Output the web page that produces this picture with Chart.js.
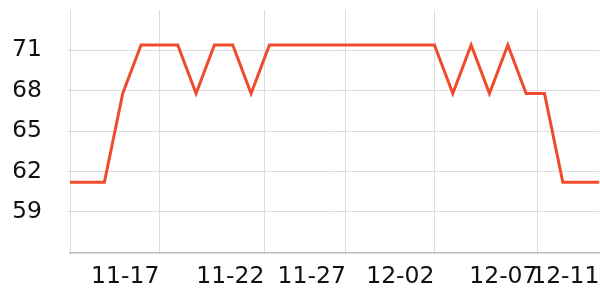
<!DOCTYPE html>
<html>
<head>
<meta charset="utf-8">
<script src="https://cdn.jsdelivr.net/npm/chart.js@4/dist/chart.umd.min.js"></script>
<style>
  html, body { margin: 0; padding: 0; background: #fff; }
  #wrap { width: 600px; height: 300px; }
</style>
</head>
<body>
<div id="wrap"><canvas id="c"></canvas></div>
<script>
// 每日数据 11-12 ~ 12-11
const dates = ['11-12','11-13','11-14','11-15','11-16','11-17','11-18','11-19','11-20','11-21',
  '11-22','11-23','11-24','11-25','11-26','11-27','11-28','11-29','11-30','12-01',
  '12-02','12-03','12-04','12-05','12-06','12-07','12-08','12-09','12-10','12-11'];
const values = [61.2, 61.2, 61.2, 67.8, 71.4, 71.4, 71.4, 67.8, 71.4, 71.4,
  67.8, 71.4, 71.4, 71.4, 71.4, 71.4, 71.4, 71.4, 71.4, 71.4,
  71.4, 67.8, 71.4, 67.8, 71.4, 67.8, 67.8, 61.2, 61.2, 61.2];

// x 轴刻度（以天为单位）及标签
const xTickPos = [0.125, 5, 10.73, 15.17, 20, 25.62, 29];
const xTickLabels = ['', '11-17', '11-22', '11-27', '12-02', '12-07', '12-11'];
const yTicks = [59, 62, 65, 68, 71];

const points = values.map((v, i) => ({ x: i, y: v }));
const font = { family: 'DejaVu Sans', size: 23.5 };
const lastX = xTickPos.length - 1;

new Chart(document.getElementById('c').getContext('2d'), {
  type: 'line',
  data: { labels: dates, datasets: [{
    data: points, borderColor: '#ee4c2c', borderWidth: 3, pointRadius: 0,
    tension: 0, fill: false, clip: 0
  }]},
  options: {
    responsive: true, maintainAspectRatio: false, animation: false,
    layout: { padding: { left: 14, top: 10, right: 0.5, bottom: 11 } },
    plugins: { legend: { display: false }, tooltip: { enabled: false } },
    scales: {
      x: {
        type: 'linear', min: 0.125, max: 29,
        afterBuildTicks: (axis) => { axis.ticks = xTickPos.map(v => ({ value: v })); },
        afterFit: (axis) => { axis.height = 36.7; axis.paddingLeft = 0; axis.paddingRight = 0; },
        ticks: {
          autoSkip: false, maxRotation: 0, align: 'end', padding: 8, color: '#111', font,
          callback: (v) => xTickLabels[xTickPos.indexOf(v)]
        },
        grid: {
          tickLength: 2,
          color: (c) => c.index === lastX ? 'rgba(0,0,0,0)' : '#dcdcdc',
          tickColor: (c) => c.index === lastX ? 'rgba(0,0,0,0)' : '#bbbbbb'
        },
        border: { display: true, color: '#bbbbbb', width: 1.5 }
      },
      y: {
        min: 56, max: 74,
        afterBuildTicks: (axis) => { axis.ticks = yTicks.map(v => ({ value: v })); },
        afterFit: (axis) => { axis.width = 56; axis.paddingTop = 0; axis.paddingBottom = 0; },
        ticks: { padding: 26, color: '#111', font },
        grid: { color: '#dcdcdc', tickLength: 2 },
        border: { display: false }
      }
    }
  }
});
</script>
</body>
</html>
